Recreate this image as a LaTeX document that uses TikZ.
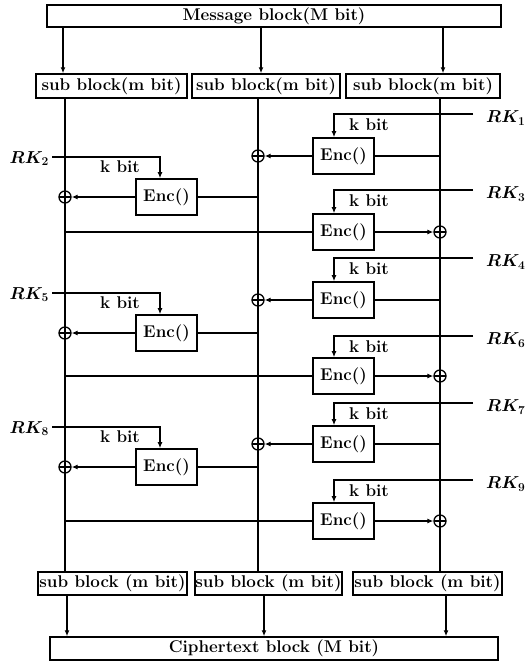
\documentclass[tikz,border=0pt]{standalone}
\usepackage{fontspec}
\usetikzlibrary{arrows.meta}
\begin{document}
\begin{tikzpicture}[x=1pt,y=-1pt,
  every node/.style={font=\fontsize{17}{20}\selectfont\bfseries},
  blk/.style={draw, line width=1.5pt, inner sep=0pt, minimum height=#1},
  blk/.default=24pt,
  enc/.style={draw, line width=1.6pt, inner sep=0pt, minimum width=61pt, minimum height=36pt},
  xor/.style={circle, draw, line width=1.3pt, inner sep=0pt, minimum size=12pt,
    path picture={\draw[line width=1.3pt] (path picture bounding box.north) -- (path picture bounding box.south)
      (path picture bounding box.west) -- (path picture bounding box.east);}},
  wire/.style={line width=1.6pt},
  arr/.style={line width=1.6pt, -{Latex[length=6pt,width=5pt]}},
  rk/.style={font=\fontsize{17}{20}\selectfont\boldmath, inner sep=1pt},
  kb/.style={inner sep=0pt}
]
\useasboundingbox (0,0) rectangle (525,662);

% column x positions
\coordinate (L) at (65,0);
\coordinate (M) at (258,0);
\coordinate (R) at (440,0);

% top blocks
\node[blk=22pt, minimum width=454pt] (msg) at (274,16) {Message block(M bit)};
\node[blk, minimum width=151pt] (s1) at (111.5,86) {sub block(m bit)};
\node[blk, minimum width=148pt] (s2) at (266,86) {sub block(m bit)};
\node[blk, minimum width=154pt] (s3) at (423,86) {sub block(m bit)};

% bottom blocks
\node[blk=23pt, minimum width=149pt] (b1) at (112.5,583.5) {sub block (m bit)};
\node[blk=23pt, minimum width=147pt] (b2) at (268.5,583.5) {sub block (m bit)};
\node[blk=23pt, minimum width=149pt] (b3) at (427.5,583.5) {sub block (m bit)};
\node[blk=23pt, minimum width=448pt] (ct) at (274,648.5) {Ciphertext block (M bit)};

% arrows message -> sub blocks
\draw[arr] (msg.south -| 63,0) -- (s1.north -| 63,0);
\draw[arr] (msg.south -| 261,0) -- (s2.north -| 261,0);
\draw[arr] (msg.south -| 443,0) -- (s3.north -| 443,0);
% arrows sub blocks -> ciphertext
\draw[arr] (b1.south -| 67,0) -- (ct.north -| 67,0);
\draw[arr] (b2.south -| 264,0) -- (ct.north -| 264,0);
\draw[arr] (b3.south -| 446,0) -- (ct.north -| 446,0);

% vertical data lines
\draw[wire] (L |- s1.south) -- (L |- b1.north);
\draw[wire] (M |- s2.south) -- (M |- b2.north);
\draw[wire] (R |- s3.south) -- (R |- b3.north);

% Enc boxes
\node[enc] (E1) at (343.5,156) {Enc()};
\node[enc] (E2) at (166.5,197) {Enc()};
\node[enc] (E3) at (343.5,232) {Enc()};
\node[enc] (E4) at (343.5,300) {Enc()};
\node[enc] (E5) at (166.5,333) {Enc()};
\node[enc] (E6) at (343.5,376) {Enc()};
\node[enc] (E7) at (343.5,444) {Enc()};
\node[enc] (E8) at (166.5,467) {Enc()};
\node[enc] (E9) at (343.5,521) {Enc()};

% XOR nodes
\node[xor] (X1) at (258,156) {};
\node[xor] (X2) at (65,197) {};
\node[xor] (X3) at (440,232) {};
\node[xor] (X4) at (258,300) {};
\node[xor] (X5) at (65,333) {};
\node[xor] (X6) at (440,376) {};
\node[xor] (X7) at (258,444) {};
\node[xor] (X8) at (65,467) {};
\node[xor] (X9) at (440,521) {};

% type A: right line -> Enc -> XOR on middle line
\foreach \e/\x in {E1/X1,E4/X4,E7/X7}{
  \draw[wire] (\e.east) -- (\e.east -| R);
  \draw[arr] (\e.west) -- (\x.east);
}
% type B: middle line -> Enc -> XOR on left line
\foreach \e/\x in {E2/X2,E5/X5,E8/X8}{
  \draw[wire] (\e.east) -- (\e.east -| M);
  \draw[arr] (\e.west) -- (\x.east);
}
% type C: left line -> Enc -> XOR on right line
\foreach \e/\x in {E3/X3,E6/X6,E9/X9}{
  \draw[wire] (\e.west -| L) -- (\e.west);
  \draw[arr] (\e.east) -- (\x.west);
}

% round keys on the right
\foreach \k/\y/\e in {1/114/E1,3/190/E3,4/258/E4,6/336/E6,7/403/E7,9/480/E9}{
  \coordinate (K\k) at (473,\y);
  \node[rk, anchor=west] (rk\k) at (485,\y+4) {$RK_{\k}$};
  \draw[arr] (K\k) -| ([xshift=-9.5pt]\e.north);
  \node[kb] (kb\k) at (369,\y+11) {k bit};
}
% round keys on the left
\foreach \k/\y/\e in {2/157/E2,5/293/E5,8/427/E8}{
  \coordinate (K\k) at (52,\y);
  \node[rk, anchor=east] (rk\k) at (50,\y+1.5) {$RK_{\k}$};
  \draw[arr] (K\k) -| ([xshift=-6.5pt]\e.north);
  \node[kb] (kb\k) at (120,\y+10) {k bit};
}
\end{tikzpicture}
\end{document}
